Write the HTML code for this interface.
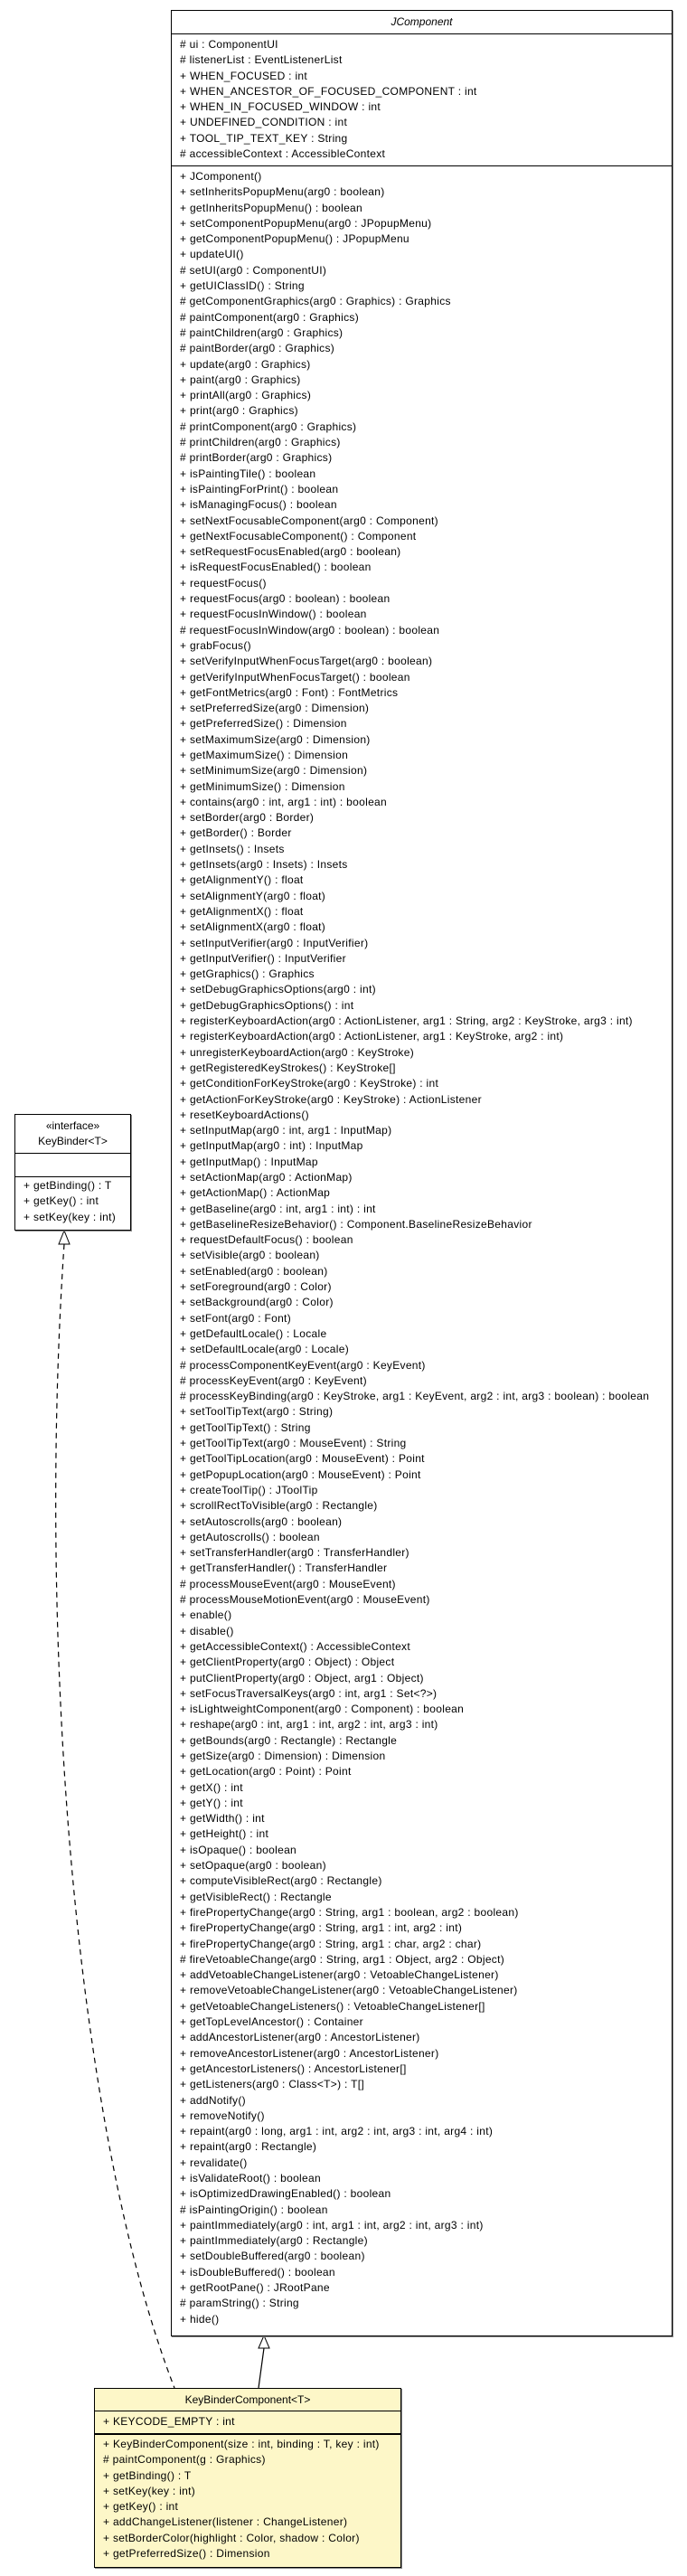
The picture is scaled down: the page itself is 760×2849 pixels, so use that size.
<!DOCTYPE html>
<html><head><meta charset="utf-8"><style>
body{margin:0;background:#fff;width:760px;height:2849px;position:relative;overflow:hidden;font-family:"Liberation Sans",Arial,sans-serif;font-size:12px;color:#000}
.box{position:absolute;border:1px solid #000;box-shadow:1px 1px 0 #888;background:#fff;box-sizing:border-box}
.hd{text-align:center;border-bottom:1px solid #000;box-sizing:border-box}
.sec{box-sizing:border-box;padding-left:9px;white-space:nowrap;line-height:17.3px;letter-spacing:0.3px}
.sec div{height:17.3px}
svg{position:absolute;left:0;top:0}
</style></head><body>
<svg width="760" height="2849">
<path d="M71 1376 C 42 1800, 80 2350, 193 2641" fill="none" stroke="#000" stroke-width="1.2" stroke-dasharray="6,5"/>
<polygon points="71,1361 65,1376 77,1376" fill="#fff" stroke="#000"/>
<line x1="286" y1="2641" x2="292" y2="2597" stroke="#000" stroke-width="1.2"/>
<polygon points="292,2583 286,2597 298,2597" fill="#fff" stroke="#000"/>
</svg>

<div class="box" style="left:189px;top:11px;width:555px;height:2573px">
<div class="hd" style="height:26px;line-height:25px;font-style:italic">JComponent</div>
<div class="sec" style="padding-top:3px;padding-bottom:4px;border-bottom:1px solid #000;height:146px">
<div># ui : ComponentUI</div><div># listenerList : EventListenerList</div><div>+ WHEN_FOCUSED : int</div><div>+ WHEN_ANCESTOR_OF_FOCUSED_COMPONENT : int</div><div>+ WHEN_IN_FOCUSED_WINDOW : int</div><div>+ UNDEFINED_CONDITION : int</div><div>+ TOOL_TIP_TEXT_KEY : String</div><div># accessibleContext : AccessibleContext</div>
</div>
<div class="sec" style="padding-top:3px">
<div>+ JComponent()</div>
<div>+ setInheritsPopupMenu(arg0 : boolean)</div>
<div>+ getInheritsPopupMenu() : boolean</div>
<div>+ setComponentPopupMenu(arg0 : JPopupMenu)</div>
<div>+ getComponentPopupMenu() : JPopupMenu</div>
<div>+ updateUI()</div>
<div># setUI(arg0 : ComponentUI)</div>
<div>+ getUIClassID() : String</div>
<div># getComponentGraphics(arg0 : Graphics) : Graphics</div>
<div># paintComponent(arg0 : Graphics)</div>
<div># paintChildren(arg0 : Graphics)</div>
<div># paintBorder(arg0 : Graphics)</div>
<div>+ update(arg0 : Graphics)</div>
<div>+ paint(arg0 : Graphics)</div>
<div>+ printAll(arg0 : Graphics)</div>
<div>+ print(arg0 : Graphics)</div>
<div># printComponent(arg0 : Graphics)</div>
<div># printChildren(arg0 : Graphics)</div>
<div># printBorder(arg0 : Graphics)</div>
<div>+ isPaintingTile() : boolean</div>
<div>+ isPaintingForPrint() : boolean</div>
<div>+ isManagingFocus() : boolean</div>
<div>+ setNextFocusableComponent(arg0 : Component)</div>
<div>+ getNextFocusableComponent() : Component</div>
<div>+ setRequestFocusEnabled(arg0 : boolean)</div>
<div>+ isRequestFocusEnabled() : boolean</div>
<div>+ requestFocus()</div>
<div>+ requestFocus(arg0 : boolean) : boolean</div>
<div>+ requestFocusInWindow() : boolean</div>
<div># requestFocusInWindow(arg0 : boolean) : boolean</div>
<div>+ grabFocus()</div>
<div>+ setVerifyInputWhenFocusTarget(arg0 : boolean)</div>
<div>+ getVerifyInputWhenFocusTarget() : boolean</div>
<div>+ getFontMetrics(arg0 : Font) : FontMetrics</div>
<div>+ setPreferredSize(arg0 : Dimension)</div>
<div>+ getPreferredSize() : Dimension</div>
<div>+ setMaximumSize(arg0 : Dimension)</div>
<div>+ getMaximumSize() : Dimension</div>
<div>+ setMinimumSize(arg0 : Dimension)</div>
<div>+ getMinimumSize() : Dimension</div>
<div>+ contains(arg0 : int, arg1 : int) : boolean</div>
<div>+ setBorder(arg0 : Border)</div>
<div>+ getBorder() : Border</div>
<div>+ getInsets() : Insets</div>
<div>+ getInsets(arg0 : Insets) : Insets</div>
<div>+ getAlignmentY() : float</div>
<div>+ setAlignmentY(arg0 : float)</div>
<div>+ getAlignmentX() : float</div>
<div>+ setAlignmentX(arg0 : float)</div>
<div>+ setInputVerifier(arg0 : InputVerifier)</div>
<div>+ getInputVerifier() : InputVerifier</div>
<div>+ getGraphics() : Graphics</div>
<div>+ setDebugGraphicsOptions(arg0 : int)</div>
<div>+ getDebugGraphicsOptions() : int</div>
<div>+ registerKeyboardAction(arg0 : ActionListener, arg1 : String, arg2 : KeyStroke, arg3 : int)</div>
<div>+ registerKeyboardAction(arg0 : ActionListener, arg1 : KeyStroke, arg2 : int)</div>
<div>+ unregisterKeyboardAction(arg0 : KeyStroke)</div>
<div>+ getRegisteredKeyStrokes() : KeyStroke[]</div>
<div>+ getConditionForKeyStroke(arg0 : KeyStroke) : int</div>
<div>+ getActionForKeyStroke(arg0 : KeyStroke) : ActionListener</div>
<div>+ resetKeyboardActions()</div>
<div>+ setInputMap(arg0 : int, arg1 : InputMap)</div>
<div>+ getInputMap(arg0 : int) : InputMap</div>
<div>+ getInputMap() : InputMap</div>
<div>+ setActionMap(arg0 : ActionMap)</div>
<div>+ getActionMap() : ActionMap</div>
<div>+ getBaseline(arg0 : int, arg1 : int) : int</div>
<div>+ getBaselineResizeBehavior() : Component.BaselineResizeBehavior</div>
<div>+ requestDefaultFocus() : boolean</div>
<div>+ setVisible(arg0 : boolean)</div>
<div>+ setEnabled(arg0 : boolean)</div>
<div>+ setForeground(arg0 : Color)</div>
<div>+ setBackground(arg0 : Color)</div>
<div>+ setFont(arg0 : Font)</div>
<div>+ getDefaultLocale() : Locale</div>
<div>+ setDefaultLocale(arg0 : Locale)</div>
<div># processComponentKeyEvent(arg0 : KeyEvent)</div>
<div># processKeyEvent(arg0 : KeyEvent)</div>
<div># processKeyBinding(arg0 : KeyStroke, arg1 : KeyEvent, arg2 : int, arg3 : boolean) : boolean</div>
<div>+ setToolTipText(arg0 : String)</div>
<div>+ getToolTipText() : String</div>
<div>+ getToolTipText(arg0 : MouseEvent) : String</div>
<div>+ getToolTipLocation(arg0 : MouseEvent) : Point</div>
<div>+ getPopupLocation(arg0 : MouseEvent) : Point</div>
<div>+ createToolTip() : JToolTip</div>
<div>+ scrollRectToVisible(arg0 : Rectangle)</div>
<div>+ setAutoscrolls(arg0 : boolean)</div>
<div>+ getAutoscrolls() : boolean</div>
<div>+ setTransferHandler(arg0 : TransferHandler)</div>
<div>+ getTransferHandler() : TransferHandler</div>
<div># processMouseEvent(arg0 : MouseEvent)</div>
<div># processMouseMotionEvent(arg0 : MouseEvent)</div>
<div>+ enable()</div>
<div>+ disable()</div>
<div>+ getAccessibleContext() : AccessibleContext</div>
<div>+ getClientProperty(arg0 : Object) : Object</div>
<div>+ putClientProperty(arg0 : Object, arg1 : Object)</div>
<div>+ setFocusTraversalKeys(arg0 : int, arg1 : Set&lt;?&gt;)</div>
<div>+ isLightweightComponent(arg0 : Component) : boolean</div>
<div>+ reshape(arg0 : int, arg1 : int, arg2 : int, arg3 : int)</div>
<div>+ getBounds(arg0 : Rectangle) : Rectangle</div>
<div>+ getSize(arg0 : Dimension) : Dimension</div>
<div>+ getLocation(arg0 : Point) : Point</div>
<div>+ getX() : int</div>
<div>+ getY() : int</div>
<div>+ getWidth() : int</div>
<div>+ getHeight() : int</div>
<div>+ isOpaque() : boolean</div>
<div>+ setOpaque(arg0 : boolean)</div>
<div>+ computeVisibleRect(arg0 : Rectangle)</div>
<div>+ getVisibleRect() : Rectangle</div>
<div>+ firePropertyChange(arg0 : String, arg1 : boolean, arg2 : boolean)</div>
<div>+ firePropertyChange(arg0 : String, arg1 : int, arg2 : int)</div>
<div>+ firePropertyChange(arg0 : String, arg1 : char, arg2 : char)</div>
<div># fireVetoableChange(arg0 : String, arg1 : Object, arg2 : Object)</div>
<div>+ addVetoableChangeListener(arg0 : VetoableChangeListener)</div>
<div>+ removeVetoableChangeListener(arg0 : VetoableChangeListener)</div>
<div>+ getVetoableChangeListeners() : VetoableChangeListener[]</div>
<div>+ getTopLevelAncestor() : Container</div>
<div>+ addAncestorListener(arg0 : AncestorListener)</div>
<div>+ removeAncestorListener(arg0 : AncestorListener)</div>
<div>+ getAncestorListeners() : AncestorListener[]</div>
<div>+ getListeners(arg0 : Class&lt;T&gt;) : T[]</div>
<div>+ addNotify()</div>
<div>+ removeNotify()</div>
<div>+ repaint(arg0 : long, arg1 : int, arg2 : int, arg3 : int, arg4 : int)</div>
<div>+ repaint(arg0 : Rectangle)</div>
<div>+ revalidate()</div>
<div>+ isValidateRoot() : boolean</div>
<div>+ isOptimizedDrawingEnabled() : boolean</div>
<div># isPaintingOrigin() : boolean</div>
<div>+ paintImmediately(arg0 : int, arg1 : int, arg2 : int, arg3 : int)</div>
<div>+ paintImmediately(arg0 : Rectangle)</div>
<div>+ setDoubleBuffered(arg0 : boolean)</div>
<div>+ isDoubleBuffered() : boolean</div>
<div>+ getRootPane() : JRootPane</div>
<div># paramString() : String</div>
<div>+ hide()</div>
</div>
</div>

<div class="box" style="left:16px;top:1232px;width:129px;height:129px">
<div class="hd" style="height:43px;padding-top:4px;line-height:17px">«interface»<br>KeyBinder&lt;T&gt;</div>
<div style="height:26px;border-bottom:1px solid #000;box-sizing:border-box"></div>
<div class="sec" style="padding-left:9px;padding-top:1px">
<div>+ getBinding() : T</div><div>+ getKey() : int</div><div>+ setKey(key : int)</div>
</div>
</div>

<div class="box" style="left:104px;top:2641px;width:340px;height:199px;background:#fdf7c8">
<div class="hd" style="height:25px;line-height:25px">KeyBinderComponent&lt;T&gt;</div>
<div class="sec" style="height:26px;border-bottom:2px solid #000;padding-top:3px">
<div>+ KEYCODE_EMPTY : int</div>
</div>
<div class="sec" style="padding-top:2px">
<div>+ KeyBinderComponent(size : int, binding : T, key : int)</div>
<div># paintComponent(g : Graphics)</div>
<div>+ getBinding() : T</div>
<div>+ setKey(key : int)</div>
<div>+ getKey() : int</div>
<div>+ addChangeListener(listener : ChangeListener)</div>
<div>+ setBorderColor(highlight : Color, shadow : Color)</div>
<div>+ getPreferredSize() : Dimension</div>
</div>
</div>
</body></html>
